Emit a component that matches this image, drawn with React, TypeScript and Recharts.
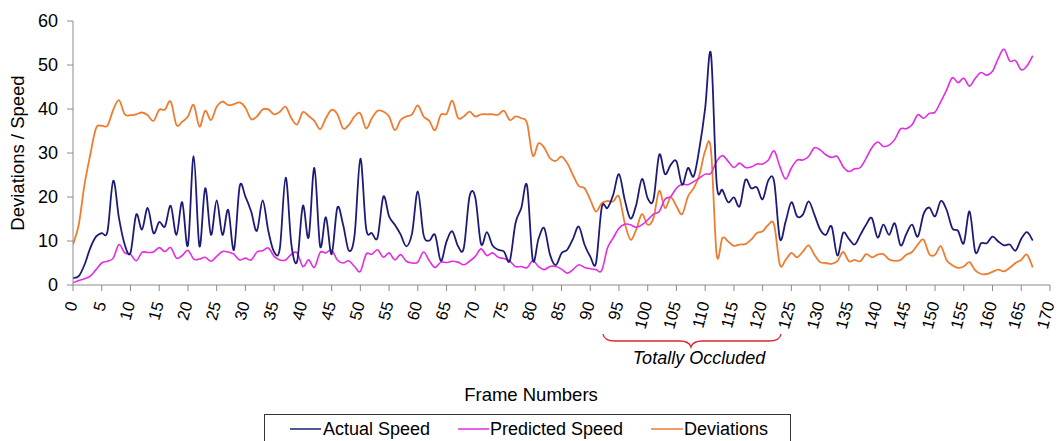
import React from 'react';
import { LineChart, Line, XAxis, YAxis } from 'recharts';

const actualSpeed = [
  1.6, 2, 4.6, 8.4, 11, 11.8, 12.2, 23.7, 15.2, 9.2,
  7.3, 16, 12.6, 17.5, 11.8, 14.3, 13.3, 18, 11.4, 18.8,
  9, 29.3, 8.8, 22, 11.4, 19.2, 11.4, 17.1, 8, 22.4,
  20.1, 16.7, 12.3, 19.2, 12.2, 7.5, 8.4, 24.4, 9.2, 5.4,
  18, 10.8, 26.6, 8.8, 15.4, 7, 17.6, 13.7, 7.8, 11.4,
  28.7, 12.9, 11.8, 10.8, 20.1, 15.6, 13.7, 11.5, 8.8, 11.8,
  21.3, 11.4, 10.1, 11.4, 5.5, 9.9, 12.2, 8.8, 8.4, 20.1,
  19.9, 9.3, 12, 9, 8, 7.6, 5.5, 14.1, 17.5, 22.6,
  5.7, 10.5, 12.9, 6.9, 4.5, 7.2, 8, 10.5, 13.3, 9.2,
  6.5, 5, 17.6, 17.5, 20.5, 25.2, 19.4, 15.1, 18.2, 24.1,
  19.7, 19.4, 29.6, 25.2, 27.3, 28.1, 22.8, 26.6, 24.7, 31.1,
  40.2, 52.6, 23.1, 21.6, 18.8, 19.9, 17.9, 23.9, 22, 22.2,
  19.5, 23.8, 23.5, 10.5, 14.4, 18.8, 15.6, 16, 19, 16,
  12.6, 11.4, 13.3, 6.7, 11.8, 10.5, 9.2, 11.4, 13.7, 15.2,
  10.8, 13.7, 11.4, 14, 9, 11.6, 13.7, 11, 16.1, 17.6,
  15.6, 19.1, 17.1, 12.9, 12.3, 9.5, 16.7, 7.5, 9.5, 9.5,
  11, 9.9, 9, 9.2, 7.8, 10.5, 12, 10.1,
];

const predictedSpeed = [
  0.5, 1, 1.4, 2, 3.5, 5, 5.4, 6.1, 9.2, 7.3,
  7, 5.5, 7.4, 7.4, 7.5, 8.5, 7.6, 8.5, 6.1, 6.7,
  7.9, 5.9, 5.9, 6.3, 5.4, 6.5, 7.6, 7.5, 7, 5.7,
  6.1, 5.7, 7.5, 7.8, 8.4, 6.5, 5.7, 5.7, 7, 7.3,
  4.2, 5.7, 4, 7.4, 7.3, 7.9, 5.7, 5, 5.5, 4.2,
  3.1, 7, 7, 8, 6.3, 7.3, 5.7, 6.9, 5.4, 5,
  5.2, 7.5, 5.5, 4, 5.2, 5.1, 5.4, 5.2, 4.6, 5.4,
  6.5, 8.2, 6.7, 7.3, 6.3, 6, 5.4, 4.2, 4.2, 3.9,
  5.5, 4.2, 3.5, 4.2, 4.2, 3.6, 2.7, 3.5, 4.6, 4,
  3.7, 3.5, 3.3, 8.4, 10.7, 12.9, 13.8, 13.7, 13.1, 13.7,
  14.8, 16.1, 16.7, 19.5, 20.1, 22, 22.9, 22.8, 23.5, 24.3,
  25.2, 25.4, 28.1, 29.4, 28.1, 26.7, 27.7, 26.7, 26.8, 27.5,
  27.5, 28.4, 30.5, 26.9, 24.1, 26.6, 28.4, 28.4, 29.2, 31.2,
  30.7, 29.6, 29, 29.2, 26.9, 25.8, 26.4, 26.7, 28.8, 31.2,
  32.5, 31.5, 31.8, 33.1, 35.5, 35.5, 36.4, 38.7, 37.9, 39,
  39.3, 41.7, 44.3, 47.1, 46, 47, 45.2, 47, 48.3, 47.7,
  48.6, 51.5, 53.6, 50.9, 51, 48.9, 49.8, 52.1,
];

const deviations = [
  9.2, 13.7, 22.8, 29.6, 35.6, 36.2, 36.2, 39.8, 42, 38.8,
  38.6, 38.8, 39.2, 38.6, 37.3, 39.8, 39.9, 41.7, 36.4, 37.1,
  38.3, 40.9, 36, 39.6, 37.5, 40.5, 41.7, 40.9, 41.1, 41.5,
  40.3, 37.7, 38.3, 39.9, 39.9, 38.8, 39.4, 40.5, 37.9, 36.5,
  39.3, 38.4, 37.3, 35.4, 37.9, 39.8, 38.8, 35.6, 36.4, 38.3,
  39, 35.6, 37.9, 39.6, 39.4, 38.3, 35.2, 37.5, 38.3, 38.8,
  40.8, 38.3, 37.3, 35.2, 38.7, 38.9, 41.9, 38, 38.3, 39.4,
  38.3, 38.8, 38.8, 38.8, 38.7, 39.6, 37.5, 38.3, 37.9, 36.8,
  29.4, 32.2, 31.2, 28.8, 28.2, 29.2, 27.7, 25, 22.5, 22,
  19.4, 16.7, 18.6, 19.1, 19, 20.1, 14.1, 10.3, 12.6, 16.1,
  13.7, 15.2, 21.4, 17.5, 19.9, 17.9, 16.1, 20.1, 22, 25,
  30.5, 30.8, 6.9, 10.7, 9.9, 8.9, 9.2, 9.3, 10.3, 11.8,
  12.2, 13.7, 13.7, 4.6, 5.7, 7.3, 6.3, 7.6, 9, 6.9,
  5.2, 5, 4.8, 5.4, 7.5, 5.4, 5.7, 5.4, 7, 6.3,
  6.9, 7, 5.8, 5.5, 5.7, 6.9, 7.5, 9.2, 10.3, 7,
  6.9, 8.8, 5.7, 4.5, 3.9, 4.2, 5.2, 3.3, 2.5, 2.5,
  3, 3.5, 3.1, 3.9, 5, 5.7, 6.9, 4,
];

const xTicks = [0, 5, 10, 15, 20, 25, 30, 35, 40, 45, 50, 55, 60, 65, 70, 75, 80, 85, 90, 95, 100, 105, 110, 115, 120, 125, 130, 135, 140, 145, 150, 155, 160, 165, 170];
const yTicks = [0, 10, 20, 30, 40, 50, 60];

const seriesNames = ['Actual Speed', 'Predicted Speed', 'Deviations'];
const seriesColors = ['#1c1c78', '#e22de2', '#ed7d31'];

const data = actualSpeed.map((v, i) => ({
  frame: i,
  actual: v,
  predicted: predictedSpeed[i],
  deviation: deviations[i],
}));

const FONT = '"Liberation Sans", Arial, sans-serif';

// Excel-like smoothed line (Catmull-Rom spline)
const smoothCurve: any = (context: any) => {
  let pts: number[][] = [];
  return {
    areaStart() {},
    areaEnd() {},
    lineStart() {
      pts = [];
    },
    point(x: number, y: number) {
      pts.push([+x, +y]);
    },
    lineEnd() {
      const n = pts.length;
      if (!n) return;
      context.moveTo(pts[0][0], pts[0][1]);
      if (n === 1) return;
      const t = 1 / 6;
      for (let i = 0; i < n - 1; i++) {
        const p0 = pts[i - 1] || pts[i];
        const p1 = pts[i];
        const p2 = pts[i + 1];
        const p3 = pts[i + 2] || p2;
        context.bezierCurveTo(
          p1[0] + (p2[0] - p0[0]) * t,
          p1[1] + (p2[1] - p0[1]) * t,
          p2[0] - (p3[0] - p1[0]) * t,
          p2[1] - (p3[1] - p1[1]) * t,
          p2[0],
          p2[1]
        );
      }
    },
  };
};

const XTick = (props: any) => {
  const { x, y, payload } = props;
  const ax = x - 1;
  const ay = y + 9;
  return (
    <text
      x={ax}
      y={ay}
      transform={`rotate(-75 ${ax} ${ay})`}
      textAnchor="end"
      dy="0.35em"
      fontSize={16.5}
      fontFamily={FONT}
      fill="#000"
    >
      {payload.value}
    </text>
  );
};

export default function App() {
  return (
    <div style={{ position: 'absolute', left: 0, top: 0, width: 1062, height: 441, background: '#fff', overflow: 'hidden' }}>
      <LineChart width={1062} height={441} data={data} margin={{ top: 21, right: 12, bottom: 0, left: 0 }}>
        <XAxis
          dataKey="frame"
          type="number"
          domain={[0, 170]}
          ticks={xTicks}
          interval={0}
          height={156}
          stroke="#8c8c8c"
          tickSize={6}
          tick={<XTick />}
          allowDataOverflow
        />
        <YAxis
          type="number"
          domain={[0, 60]}
          ticks={yTicks}
          width={73}
          stroke="#8c8c8c"
          tickSize={6}
          tickMargin={9}
          tick={{ fontSize: 18, fontFamily: FONT, fill: '#000' }}
        />
        <Line dataKey="deviation" type={smoothCurve} stroke={seriesColors[2]} strokeWidth={1.8} dot={false} isAnimationActive={false} />
        <Line dataKey="predicted" type={smoothCurve} stroke={seriesColors[1]} strokeWidth={1.6} dot={false} isAnimationActive={false} />
        <Line dataKey="actual" type={smoothCurve} stroke={seriesColors[0]} strokeWidth={1.8} dot={false} isAnimationActive={false} />
      </LineChart>
      <svg width={1062} height={441} style={{ position: 'absolute', left: 0, top: 0, pointerEvents: 'none' }}>
        <text x={24} y={153} transform="rotate(-90 24 153)" textAnchor="middle" fontSize={18.5} fontFamily={FONT} fill="#000">
          Deviations / Speed
        </text>
        <path
          d="M603,334 Q604,341 615,341 L680,341 Q689,341 691,347 Q693,341 702,341 L769,341 Q780,341 781,334"
          fill="none"
          stroke="#d8282e"
          strokeWidth={1.4}
        />
        <text x={699} y={364} textAnchor="middle" fontSize={18} fontStyle="italic" fontFamily={FONT} fill="#000">
          Totally Occluded
        </text>
        <text x={531} y={401} textAnchor="middle" fontSize={18.5} fontFamily={FONT} fill="#000">
          Frame Numbers
        </text>
        <rect x={264.5} y={414.5} width={526} height={40} fill="#fff" stroke="#333" strokeWidth={1} />
        <line x1={290} y1={429} x2={321} y2={429} stroke={seriesColors[0]} strokeWidth={1.5} />
        <text x={323} y={435} fontSize={18} fontFamily={FONT} fill="#000">{seriesNames[0]}</text>
        <line x1={458} y1={429} x2={489} y2={429} stroke={seriesColors[1]} strokeWidth={1.5} />
        <text x={490} y={435} fontSize={18} fontFamily={FONT} fill="#000">{seriesNames[1]}</text>
        <line x1={651} y1={429} x2={683} y2={429} stroke={seriesColors[2]} strokeWidth={1.5} />
        <text x={684} y={435} fontSize={18} fontFamily={FONT} fill="#000">{seriesNames[2]}</text>
      </svg>
    </div>
  );
}
